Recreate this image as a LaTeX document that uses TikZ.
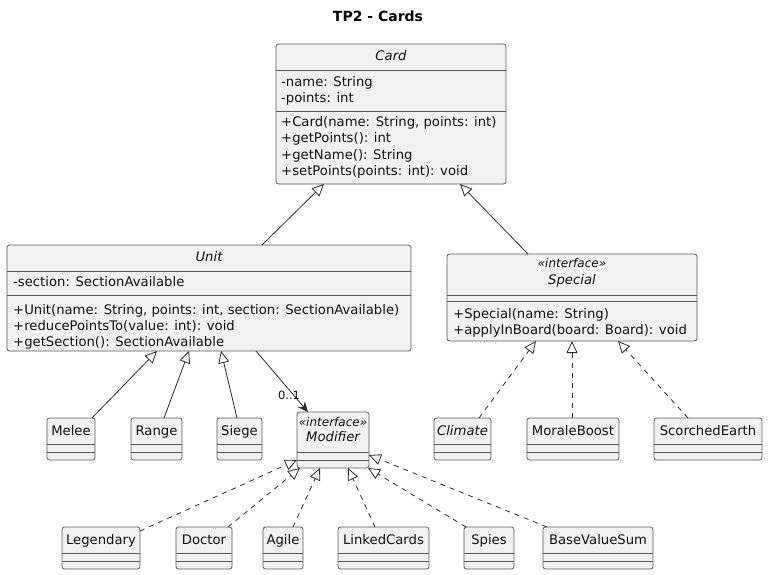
\documentclass[tikz,border=0pt]{standalone}
\usepackage{fontspec}
\setmainfont{DejaVu Sans}
\usetikzlibrary{arrows.meta}
\definecolor{boxfill}{HTML}{F1F1F1}
\definecolor{boxline}{HTML}{5A5A5A}
\definecolor{edgeline}{HTML}{2A2A2A}
\definecolor{textcol}{HTML}{111111}
\tikzset{
 classbox/.style={draw=boxline, fill=boxfill, line width=0.8pt, rounded corners=2.5pt, inner sep=0pt, outer sep=0pt},
 sepline/.style={draw=boxline, line width=0.8pt},
 member/.style={anchor=mid west, inner sep=0pt, text=textcol, font=\fontsize{13.2}{16}\selectfont},
 cname/.style={anchor=mid, inner sep=0pt, text=textcol, font=\fontsize{13.2}{16}\selectfont},
 aname/.style={anchor=mid, inner sep=0pt, text=textcol, font=\fontsize{13.2}{16}\selectfont\itshape},
 stereo/.style={anchor=mid, inner sep=0pt, text=textcol, font=\fontsize{12}{14}\selectfont\itshape},
 gen/.style={draw=edgeline, line width=0.8pt, -{Triangle[open, length=12pt, width=11pt]}},
 real/.style={gen, dash pattern=on 5pt off 5pt},
 assoc/.style={draw=edgeline, line width=0.8pt, -{Stealth[length=10pt, width=9pt, inset=3pt]}},
 mult/.style={inner sep=0pt, text=textcol, font=\fontsize{11.5}{13}\selectfont},
 titletext/.style={inner sep=0pt, font=\fontsize{14}{16}\selectfont\bfseries},
}
% name, x1, y1, x2, y2
\newcommand\umlrect[5]{\node[classbox, minimum width={(#4-#2)*1pt}, minimum height={(#5-#3)*1pt}] (#1) at ({(#2+#4)/2},{(#3+#5)/2}) {};}
% node, y
\newcommand\umlsep[2]{\draw[sepline] (#1.west |- 0,{#2}) -- (#1.east |- 0,{#2});}
% name, x1, x2, top, label, style
\newcommand\smallclass[6]{%
 \umlrect{#1}{#2}{#4}{#3}{#4+42}
 \node[#6] (#1-n) at ({(#2+#3)/2},{#4+14.5}) {#5};
 \umlsep{#1}{#4+26}
 \umlsep{#1}{#4+34}
}
\begin{document}
\begin{tikzpicture}[x=1pt,y=-1pt]
\useasboundingbox (0,0) rectangle (768,575);
\node[titletext] (title) at (378,16) {TP2 - Cards};

% Card
\umlrect{card}{276}{44}{506}{184}
\node[aname] (card-n) at (391,57.5) {Card};
\umlsep{card}{70}
\umlsep{card}{111}
\node[member] (card-a1) at (281,84) {-name: String};
\node[member] (card-a2) at (281,100) {-points: int};
\node[member] (card-m1) at (281,124) {+Card(name: String, points: int)};
\node[member] (card-m2) at (281,140) {+getPoints(): int};
\node[member] (card-m3) at (281,157) {+getName(): String};
\node[member] (card-m4) at (281,173) {+setPoints(points: int): void};

% Unit
\umlrect{unit}{7}{245}{411}{351}
\node[aname] (unit-n) at (209,258.5) {Unit};
\umlsep{unit}{271}
\umlsep{unit}{295}
\node[member] (unit-a1) at (13,284) {-section: SectionAvailable};
\node[member] (unit-m1) at (13,312) {+Unit(name: String, points: int, section: SectionAvailable)};
\node[member] (unit-m2) at (13,328) {+reducePointsTo(value: int): void};
\node[member] (unit-m3) at (13,344) {+getSection(): SectionAvailable};

% Special
\umlrect{special}{447}{254}{697}{341}
\node[stereo] (special-s) at (572,264.5) {«interface»};
\node[aname] (special-n) at (572,281.5) {Special};
\umlsep{special}{295}
\umlsep{special}{301}
\node[member] (special-m1) at (453,316) {+Special(name: String)};
\node[member] (special-m2) at (453,332) {+applyInBoard(board: Board): void};

% Modifier
\umlrect{modifier}{297}{412}{369}{468}
\node[stereo] (modifier-s) at (333,423.5) {«interface»};
\node[aname] (modifier-n) at (333,438.5) {Modifier};
\umlsep{modifier}{452}
\umlsep{modifier}{460}

% row 1
\smallclass{melee}{47}{95}{418}{Melee}{cname}
\smallclass{range}{131}{182}{418}{Range}{cname}
\smallclass{siege}{217}{262}{418}{Siege}{cname}
\smallclass{climate}{434}{491}{418}{Climate}{aname}
\smallclass{moraleboost}{527}{619}{418}{MoraleBoost}{cname}
\smallclass{scorched}{654}{762}{418}{ScorchedEarth}{cname}

% row 2
\smallclass{legendary}{62}{140}{527}{Legendary}{cname}
\smallclass{doctor}{176}{232}{527}{Doctor}{cname}
\smallclass{agile}{263}{303}{527}{Agile}{cname}
\smallclass{linkedcards}{338}{429}{527}{LinkedCards}{cname}
\smallclass{spies}{464}{514}{527}{Spies}{cname}
\smallclass{basevaluesum}{543}{653}{527}{BaseValueSum}{cname}

% generalizations
\draw[gen] (unit.north -| 262,0) -- (card.south -| 324,0);
\draw[gen] (special.north -| 528,0) -- (card.south -| 460,0);
\draw[gen] (melee.north -| 92,0) -- (unit.south -| 157,0);
\draw[gen] (range.north -| 164,0) -- (unit.south -| 189,0);
\draw[gen] (siege.north -| 237,0) -- (unit.south -| 221,0);

% association
\draw[assoc] (unit.south -| 256,0) -- (modifier.north -| 308,0);
\node[mult] (mult01) at (289,395) {0..1};

% realizations of Special
\draw[real] (climate.north -| 479,0) -- (special.south -| 536,0);
\draw[real] (moraleboost.north -| 572,0) -- (special.south -| 572,0);
\draw[real] (scorched.north -| 688,0) -- (special.south -| 618,0);

% realizations of Modifier
\draw[real] (legendary.east |- 0,531) -- (modifier.west |- 0,460);
\draw[real] (doctor.north -| 228,0) -- (modifier.south -| 300,0);
\draw[real] (agile.north -| 293,0) -- (modifier.south -| 320,0);
\draw[real] (linkedcards.north -| 375,0) -- (modifier.south -| 348,0);
\draw[real] (spies.north -| 466,0) -- (modifier.south -| 368,0);
\draw[real] (basevaluesum.north -| 547,0) -- (modifier.east |- 0,455);
\end{tikzpicture}
\end{document}
